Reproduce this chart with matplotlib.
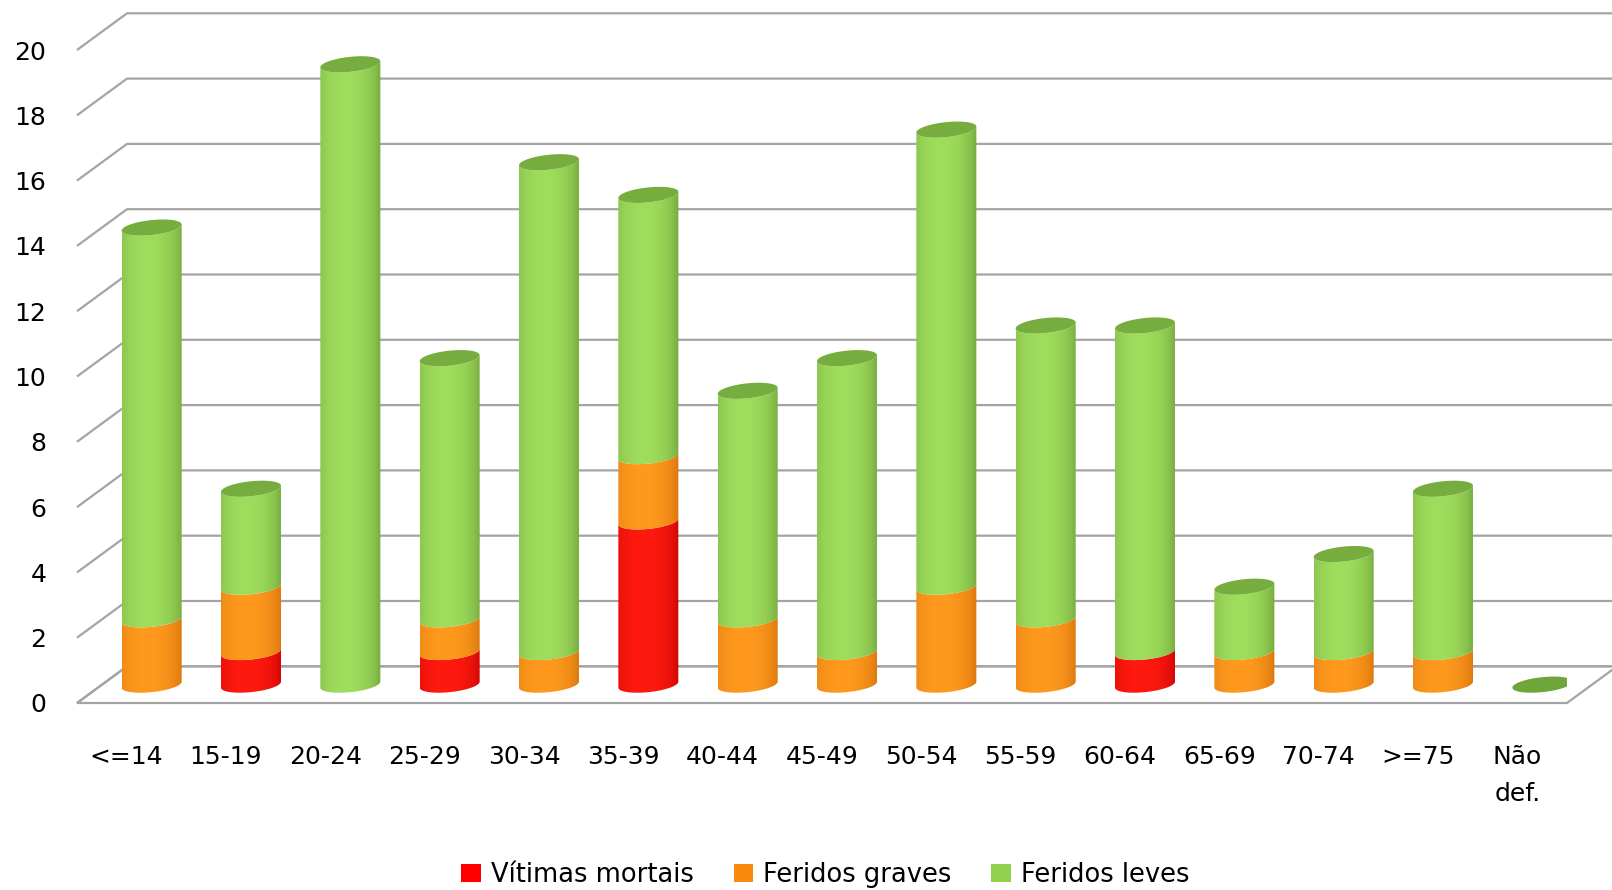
import matplotlib
matplotlib.use('Agg')
import matplotlib.pyplot as plt
import numpy as np
from matplotlib.patches import Polygon, Patch
from matplotlib.colors import to_rgb

categorias = ['<=14', '15-19', '20-24', '25-29', '30-34', '35-39', '40-44', '45-49',
              '50-54', '55-59', '60-64', '65-69', '70-74', '>=75', 'Não\ndef.']
mortais = [0, 1, 0, 1, 0, 5, 0, 0, 0, 0, 1, 0, 0, 0, 0]
graves = [2, 2, 0, 1, 1, 2, 2, 1, 3, 2, 0, 1, 1, 1, 0]
leves = [12, 3, 19, 8, 15, 8, 7, 9, 14, 9, 10, 2, 3, 5, 0]
series = ['Vítimas mortais', 'Feridos graves', 'Feridos leves']
cores = ['#ff0000', '#f7890c', '#92d050']
# light / dark shades for the cylinder look
claros = ['#ff1a10', '#ff9a1e', '#9fdd5c']
escuros = ['#c40000', '#d06c08', '#6a9c36']
topo = ['#e00000', '#e47d10', '#76ad3e']

fig = plt.figure(figsize=(16.12, 8.90), dpi=100)
ax = fig.add_axes([77/1612, 187/890, 1490/1612, 690/890])
xmin, xmax = -0.5, 14.5
ymax = 690/32.65
ax.set_xlim(xmin, xmax)
ax.set_ylim(0, ymax)
for s in ax.spines.values():
    s.set_visible(False)

# perspective offset of the back wall
dx = 50/99.33
dy = 36.7/32.65
cinza = '#a4a4a4'

# floor
ax.add_patch(Polygon([[xmin, 0], [xmax, 0], [xmax+dx, dy], [xmin+dx, dy]],
                     closed=True, facecolor='white', edgecolor=cinza, lw=1.6,
                     clip_on=False, zorder=1))
# grid lines
for v in range(0, 21, 2):
    ax.plot([xmin, xmin+dx, xmax+dx+0.5], [v, v+dy, v+dy], color=cinza, lw=1.6,
            clip_on=False, zorder=1, solid_capstyle='butt')

a = 30/99.33
b = 7.5/32.65
sh = 3.0/32.65
t = np.linspace(0, np.pi, 60)


def arco(cx, cy):
    # front half of ellipse, left -> right
    tt = np.pi + t
    return np.column_stack([cx + a*np.cos(tt), cy + b*np.sin(tt) + sh*np.cos(tt)])


def elipse(cx, cy):
    tt = np.linspace(0, 2*np.pi, 120)
    return np.column_stack([cx + a*np.cos(tt), cy + b*np.sin(tt) + sh*np.cos(tt)])


def gradiente(claro, escuro, n=80):
    u = np.linspace(0, 1, n)
    m = np.clip(1 - ((u - 0.42)/0.6)**2, 0, 1)**0.6
    c1 = np.array(to_rgb(claro))
    c2 = np.array(to_rgb(escuro))
    return (c2[None, :] + (c1 - c2)[None, :]*m[:, None])[None, :, :]


base = dy/2
valores = [mortais, graves, leves]
for i in range(len(categorias)):
    cx = i + dx/2
    y0 = base
    ultimo = None
    for k in range(3):
        v = valores[k][i]
        if v == 0:
            continue
        y1 = y0 + v
        verts = np.vstack([arco(cx, y0), arco(cx, y1)[::-1]])
        poly = Polygon(verts, closed=True, facecolor='none', edgecolor='none',
                       transform=ax.transData)
        ax.add_patch(poly)
        im = ax.imshow(gradiente(claros[k], escuros[k]),
                       extent=[cx-a, cx+a, y0-b-sh, y1+b+sh],
                       aspect='auto', interpolation='bilinear', zorder=3)
        im.set_clip_path(poly)
        y0 = y1
        ultimo = k
    if ultimo is None:
        cor_topo = '#6fa63a'
    else:
        cor_topo = topo[ultimo]
    ax.add_patch(Polygon(elipse(cx, y0), closed=True, facecolor=cor_topo,
                         edgecolor='none', zorder=4))

ax.set_xlim(xmin, xmax)
ax.set_ylim(0, ymax)

ax.set_yticks(range(0, 21, 2))
ax.set_yticklabels([str(v) for v in range(0, 21, 2)], fontsize=18)
ax.set_xticks(range(len(categorias)))
ax.set_xticklabels(categorias, fontsize=18, va='top')
ax.tick_params(axis='y', length=0, pad=22)
ax.tick_params(axis='x', length=0, pad=30)
ax.get_xticklabels()[-1].set_linespacing(1.7)

handles = [Patch(facecolor=c, edgecolor='none') for c in cores]
fig.legend(handles, series, loc='center', bbox_to_anchor=(0.512, 15/890), ncol=3,
           frameon=False, fontsize=18.5, handlelength=0.75, handleheight=0.75,
           handletextpad=0.4, columnspacing=1.55)

fig.savefig('out.png', dpi=100)
